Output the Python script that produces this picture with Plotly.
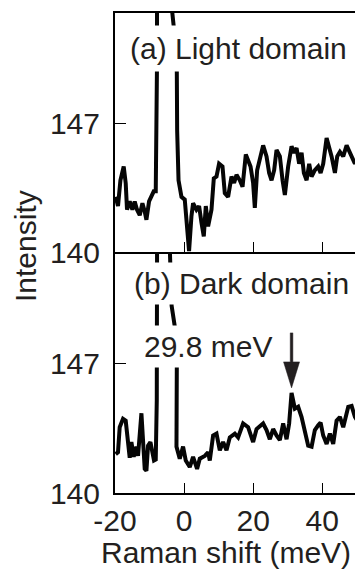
import plotly.graph_objects as go

# ---------------- data ----------------
light_x = [-19.8, -19.13, -18.43, -17.48, -16.9, -16.52, -15.74, -14.96, -14.29, -13.62,
           -12.84, -12.06, -11.39, -10.9, -10.14, -9.45, -8.78, -8.2, -7.85, -7.7,
           -5.5, -4.3, -3.4, -2.4, -2.1, -2.0, -1.6, -0.75, 0.2, 0.87,
           1.45, 2.14, 2.61, 3.59, 4.35, 5.04, 5.71, 6.29, 6.96, 7.94,
           8.61, 9.39, 10.14, 11.13, 11.8, 12.75, 13.74, 14.49, 15.19, 16.14,
           16.93, 17.88, 18.55, 19.25, 20.0, 20.49, 21.16, 21.94, 22.9, 23.88,
           24.64, 25.33, 26.09, 26.78, 27.74, 28.52, 29.19, 30.14, 31.13, 31.8,
           32.58, 33.33, 34.03, 34.7, 35.48, 36.23, 36.93, 37.88, 38.84, 39.54,
           40.29, 41.28, 42.03, 42.72, 43.68, 44.35, 45.13, 46.09, 47.07, 48.03,
           48.99, 49.48, 50.5]
light_y = [143.0, 142.5, 143.9, 144.65, 143.75, 142.3, 142.75, 142.3, 142.75, 142.3,
           142.0, 142.65, 142.2, 141.75, 142.75, 143.0, 143.3, 143.3, 150, 175,
           200, 175, 153, 151.2, 149.8, 146.6, 143.9, 143.0, 142.85, 141.4,
           140.05, 141.95, 142.65, 142.3, 142.5, 141.6, 140.85, 142.5, 141.4, 142.3,
           144.0, 144.1, 144.8, 144.65, 143.2, 143.0, 144.1, 143.75, 144.2, 143.9,
           143.55, 145.3, 144.9, 144.65, 143.75, 142.4, 144.45, 145.1, 145.8, 145.2,
           144.3, 143.9, 144.45, 145.55, 145.2, 143.9, 143.1, 144.65, 145.75, 145.4,
           145.65, 144.8, 145.4, 144.3, 143.9, 144.8, 144.1, 144.45, 144.65, 144.3,
           144.8, 146.2, 145.75, 145.2, 144.3, 145.2, 145.45, 145.2, 145.8, 145.4,
           145.0, 144.8, 145.2]

dark_x = [-19.8, -19.13, -18.64, -17.68, -16.9, -16.23, -15.74, -15.25, -14.58, -13.8,
          -13.33, -12.35, -11.88, -11.39, -10.9, -10.43, -9.74, -9.16, -8.7, -8.2,
          -7.9, -7.75, -6.0, -4.4, -4.1, -3.6, -2.7, -2.1, -2.1, -2.2,
          -1.25, -0.29, 0.49, 1.65, 2.61, 3.77, 4.55, 6.0, 6.96, 7.45,
          8.41, 9.39, 10.35, 11.3, 12.29, 13.25, 14.7, 15.65, 17.1, 18.55,
          20.0, 20.99, 22.9, 23.88, 24.84, 25.8, 26.78, 27.74, 28.7, 29.68,
          30.43, 31.13, 32.09, 33.04, 34.03, 35.0, 35.94, 36.93, 37.88, 38.84,
          39.54, 40.29, 41.28, 42.23, 43.19, 44.17, 45.13, 46.09, 47.54, 48.52,
          49.48, 50.5]
dark_y = [142.1, 142.2, 143.55, 144.0, 143.9, 142.85, 141.9, 142.75, 141.95, 142.5,
          142.0, 144.3, 142.5, 141.3, 141.2, 142.55, 142.75, 142.0, 141.75, 141.8,
          145, 160, 200, 160, 153, 150.1, 149.0, 146.8, 143.5, 142.5,
          141.85, 142.5, 141.75, 141.4, 141.95, 141.3, 141.85, 142.0, 142.2, 141.75,
          143.1, 143.2, 142.3, 142.75, 142.3, 143.0, 143.2, 143.0, 143.75, 143.55,
          142.75, 143.45, 143.75, 143.4, 142.9, 143.45, 143.1, 142.85, 143.75, 142.9,
          143.75, 145.4, 144.55, 144.65, 144.1, 143.4, 142.55, 142.5, 143.4, 143.65,
          143.8, 143.1, 142.65, 143.2, 142.65, 143.9, 144.1, 143.55, 144.65, 144.7,
          144.1, 143.8]

x_ticks = [-20, 0, 20, 40]
x_tick_text = ["-20", "0", "20", "40"]
y_ticks = [140, 147]
y_tick_text = ["140", "147"]
x_range = [-20, 49.5]
y_range = [140, 153]

panel_a = "(a) Light domain"
panel_b = "(b) Dark domain"
peak_label = "29.8 meV"
x_title = "Raman shift (meV)"
y_title = "Intensity"

# ---------------- styling ----------------
FONT = "Liberation Sans, Arial, Helvetica, sans-serif"
TXT = "#231f20"
FS = 30

fig = go.Figure()
fig.add_trace(go.Scatter(x=light_x, y=light_y, mode="lines", xaxis="x", yaxis="y",
                         line=dict(color="#050505", width=4), showlegend=False,
                         hoverinfo="skip"))
fig.add_trace(go.Scatter(x=dark_x, y=dark_y, mode="lines", xaxis="x2", yaxis="y2",
                         line=dict(color="#050505", width=4), showlegend=False,
                         hoverinfo="skip"))

split = 241 / 480.0

xcommon = dict(range=x_range, showline=True, linecolor="black", linewidth=2,
               ticks="inside", ticklen=10, tickwidth=1.2,
               tickcolor="black", tickvals=x_ticks, ticktext=x_tick_text,
               showgrid=False, zeroline=False, domain=[0, 1],
               tickfont=dict(family=FONT, size=FS, color=TXT))
ycommon = dict(range=y_range, showline=True, linecolor="black", linewidth=2,
               mirror=False, ticks="inside", ticklen=11, tickwidth=1.2,
               tickcolor="black", tickvals=y_ticks, ticktext=y_tick_text,
               showgrid=False, zeroline=False,
               tickfont=dict(family=FONT, size=FS, color=TXT))

fig.update_layout(
    width=355, height=570,
    margin=dict(l=115, r=0, t=13, b=77, pad=0),
    paper_bgcolor="white", plot_bgcolor="white",
    showlegend=False,
    xaxis=dict(xcommon, anchor="y", mirror=True, showticklabels=False),
    yaxis=dict(ycommon, anchor="x", domain=[split, 1], ticklabelstandoff=7),
    xaxis2=dict(xcommon, anchor="y2", mirror=False, showticklabels=True,
                ticklabelstandoff=0),
    yaxis2=dict(ycommon, anchor="x2", domain=[0, split], ticklabelstandoff=7),
)

def px_x(px):
    return (px - 115) / 240.0

def px_y(py):
    return (493 - py) / 480.0

ann_font = dict(family=FONT, size=FS, color=TXT)
annotations = [
    dict(text=panel_a, xref="paper", yref="paper", x=px_x(238), y=px_y(49),
         xanchor="center", yanchor="middle", showarrow=False, font=ann_font,
         bgcolor="white", borderpad=6),
    dict(text=panel_b, xref="paper", yref="paper", x=px_x(241), y=px_y(283),
         xanchor="center", yanchor="middle", showarrow=False, font=ann_font,
         bgcolor="white", borderpad=4),
    dict(text=peak_label, xref="paper", yref="paper", x=px_x(208), y=px_y(346),
         xanchor="center", yanchor="middle", showarrow=False, font=ann_font,
         bgcolor="white", borderpad=4),
    dict(text=x_title, xref="paper", yref="paper", x=px_x(225.5), y=px_y(552),
         xanchor="center", yanchor="middle", showarrow=False, font=ann_font),
    dict(text=y_title, xref="paper", yref="paper", x=px_x(25), y=px_y(246),
         xanchor="center", yanchor="middle", showarrow=False, font=ann_font,
         textangle=-90),
]
fig.update_layout(annotations=annotations)

# arrow pointing at the peak in the dark-domain spectrum
cand = [i for i, v in enumerate(dark_x) if 25 <= v <= 35]
pk = max(cand, key=lambda i: dark_y[i])
fig.add_shape(type="path", xref="x2", yref="y2",
              xsizemode="pixel", ysizemode="pixel",
              xanchor=dark_x[pk], yanchor=dark_y[pk],
              path="M -1.3,60 L 1.3,60 L 1.3,31 L 8,31 L 0,5 L -8,31 L -1.3,31 Z",
              fillcolor=TXT, line=dict(color=TXT, width=0.5))

fig.write_html("out.html")
